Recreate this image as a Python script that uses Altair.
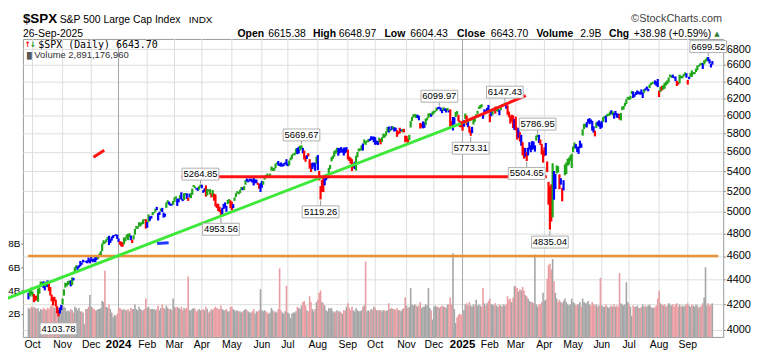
import altair as alt
import pandas as pd
import numpy as np

# ---------------- data: $SPX daily bars, 27-Sep-2023 .. 26-Sep-2025 (one line per month) ----------------
high = [
 4292, 4317, 4333,
 4300, 4281, 4268, 4268, 4324, 4336, 4385, 4378, 4385, 4377, 4383, 4393, 4367, 4339, 4276, 4256, 4259, 4236, 4183, 4156, 4174, 4194,
 4245, 4319, 4374, 4372, 4387, 4391, 4393, 4418, 4414, 4504, 4521, 4511, 4521, 4557, 4542, 4568, 4560, 4557, 4562, 4587, 4570,
 4596, 4574, 4579, 4599, 4591, 4609, 4623, 4643, 4709, 4739, 4726, 4748, 4768, 4779, 4748, 4772, 4784, 4785, 4793, 4789,
 4755, 4730, 4726, 4721, 4764, 4765, 4790, 4798, 4802, 4782, 4744, 4783, 4842, 4868, 4866, 4903, 4898, 4906, 4929, 4931, 4932,
 4907, 4976, 4957, 4963, 4999, 5000, 5030, 5048, 4990, 5002, 5032, 5038, 4993, 4983, 5089, 5111, 5098, 5080, 5077, 5105,
 5140, 5149, 5127, 5128, 5159, 5189, 5125, 5179, 5179, 5179, 5136, 5175, 5180, 5225, 5261, 5246, 5229, 5235, 5249, 5264.85,
 5263, 5208, 5228, 5256, 5222, 5216, 5220, 5178, 5211, 5175, 5168, 5077, 5078, 5049, 5019, 5039, 5076, 5090, 5057, 5114, 5123, 5110,
 5096, 5074, 5139, 5181, 5200, 5191, 5214, 5240, 5238, 5250, 5311, 5326, 5305, 5325, 5324, 5315, 5342, 5315, 5315, 5282, 5270, 5280,
 5302, 5298, 5355, 5362, 5376, 5362, 5376, 5447, 5436, 5432, 5477, 5488, 5505, 5478, 5490, 5472, 5483, 5490, 5524,
 5479, 5509, 5540, 5570, 5583, 5590, 5635, 5642, 5655, 5666, 5669.67, 5643, 5614, 5557, 5567, 5586, 5524, 5479, 5488, 5487, 5487, 5551,
 5567, 5401, 5250, 5312, 5330, 5328, 5350, 5364, 5435, 5464, 5545, 5561, 5608, 5621, 5643, 5643, 5641, 5651, 5630, 5646, 5646, 5651,
 5624, 5552, 5540, 5523, 5484, 5497, 5560, 5600, 5636, 5637, 5670, 5690, 5734, 5716, 5722, 5736, 5742, 5767, 5765, 5765,
 5758, 5721, 5718, 5753, 5739, 5757, 5797, 5790, 5822, 5871, 5875, 5846, 5879, 5878, 5866, 5863, 5835, 5817, 5862, 5843, 5847, 5850, 5775,
 5772, 5741, 5783, 5936, 5983, 6012, 6017, 6009, 6008, 5996, 5915, 5909, 5932, 5921, 5964, 5974, 6021, 6025, 6020, 6044,
 6053, 6052, 6089, 6092, 6099.97, 6088, 6066, 6093, 6079, 6078, 6085, 6058, 6070, 5935, 5982, 5978, 6040, 6049, 6006, 5941, 5929,
 5935, 5949, 6022, 6000, 5927, 5880, 5838, 5871, 5960, 5964, 6014, 6052, 6100, 6119, 6128, 6018, 6070, 6062, 6086, 6120,
 6022, 6042, 6062, 6084, 6101, 6073, 6076, 6064, 6116, 6127, 6130, 6147.43, 6119, 6114, 6044, 5992, 6009, 6000, 5959,
 5986, 5865, 5860, 5812, 5783, 5705, 5645, 5642, 5597, 5645, 5704, 5670, 5716, 5711, 5670, 5775, 5786.95, 5783, 5732, 5685, 5615,
 5650, 5696, 5500, 5292, 5246, 5267, 5481, 5402, 5371, 5459, 5450, 5367, 5329, 5232, 5309, 5469, 5489, 5528, 5540, 5563, 5581,
 5659, 5700, 5683, 5656, 5655, 5720, 5691, 5845, 5906, 5906, 5925, 5959, 5969, 5954, 5939, 5878, 5829, 5922, 5930, 5944, 5922,
 5938, 5981, 5991, 5999, 6016, 6021, 6044, 6059, 6046, 6026, 6051, 6024, 6018, 6018, 6028, 6101, 6108, 6146, 6187, 6215,
 6210, 6228, 6285, 6278, 6243, 6270, 6290, 6279, 6270, 6302, 6266, 6304, 6315, 6336, 6310, 6360, 6381, 6390, 6395, 6410, 6399, 6427,
 6288, 6330, 6344, 6353, 6380, 6395, 6410, 6446, 6481, 6473, 6481, 6455, 6458, 6405, 6394, 6480, 6466, 6466, 6487, 6508, 6498,
 6416, 6455, 6502, 6532, 6512, 6513, 6555, 6592, 6600, 6619, 6627, 6624, 6656, 6671, 6694, 6699.52, 6670, 6612, 6648.97,
]
low = [
 4238, 4261, 4276,
 4260, 4216, 4225, 4234, 4219, 4284, 4339, 4345, 4329, 4311, 4339, 4337, 4306, 4269, 4223, 4190, 4224, 4182, 4128, 4103.78, 4126, 4154,
 4197, 4268, 4334, 4344, 4355, 4362, 4344, 4354, 4393, 4462, 4495, 4479, 4500, 4511, 4525, 4544, 4554, 4545, 4537, 4546, 4537,
 4557, 4546, 4552, 4546, 4566, 4575, 4600, 4605, 4643, 4704, 4711, 4721, 4743, 4697, 4715, 4736, 4758, 4775, 4780, 4751,
 4723, 4700, 4683, 4682, 4703, 4730, 4757, 4740, 4769, 4739, 4714, 4746, 4789, 4844, 4842, 4864, 4865, 4881, 4887, 4917, 4845,
 4853, 4905, 4918, 4937, 4969, 4987, 5000, 5017, 4920, 4971, 5004, 4999, 4946, 4955, 5038, 5079, 5068, 5058, 5061, 5068,
 5094, 5126, 5057, 5091, 5125, 5117, 5102, 5114, 5161, 5124, 5105, 5138, 5131, 5164, 5240, 5229, 5216, 5203, 5214, 5243,
 5229, 5184, 5194, 5146, 5157, 5198, 5168, 5138, 5147, 5107, 5052, 5036, 5008, 4999, 4953.56, 4978, 5028, 5040, 5001, 5074, 5085, 5035,
 5012, 5035, 5106, 5143, 5180, 5169, 5180, 5212, 5209, 5211, 5263, 5296, 5287, 5298, 5297, 5285, 5256, 5279, 5278, 5262, 5223, 5192,
 5234, 5263, 5314, 5335, 5332, 5331, 5333, 5406, 5403, 5403, 5429, 5471, 5459, 5452, 5447, 5446, 5452, 5474, 5459,
 5451, 5458, 5511, 5525, 5563, 5565, 5581, 5576, 5584, 5615, 5632, 5585, 5522, 5497, 5527, 5552, 5425, 5391, 5420, 5444, 5404, 5476,
 5410, 5306, 5119.26, 5193, 5191, 5257, 5307, 5325, 5377, 5422, 5501, 5525, 5550, 5580, 5595, 5560, 5587, 5602, 5590, 5561, 5586, 5598,
 5521, 5504, 5477, 5402, 5434, 5420, 5406, 5545, 5605, 5615, 5614, 5615, 5690, 5675, 5702, 5703, 5716, 5725, 5730, 5703,
 5676, 5680, 5674, 5703, 5681, 5707, 5751, 5754, 5775, 5816, 5809, 5822, 5836, 5846, 5820, 5825, 5762, 5790, 5800, 5823, 5812, 5810, 5703,
 5712, 5697, 5725, 5864, 5937, 5976, 5985, 5969, 5972, 5945, 5853, 5865, 5855, 5860, 5891, 5944, 5972, 5991, 5984, 6003,
 6021, 6036, 6050, 6070, 6077, 6048, 6026, 6056, 6050, 6033, 6054, 6034, 5867, 5865, 5832, 5903, 5982, 6007, 5932, 5869, 5867,
 5829, 5874, 5960, 5890, 5867, 5809, 5773.31, 5803, 5898, 5929, 5976, 6018, 6075, 6077, 6093, 5962, 6014, 6018, 6044, 6030,
 5923, 5990, 6007, 6062, 6020, 6049, 6042, 6003, 6060, 6100, 6111, 6111, 6076, 6008, 5979, 5908, 5930, 5858, 5837,
 5833, 5732, 5750, 5711, 5666, 5564, 5529, 5546, 5504.65, 5563, 5625, 5597, 5622, 5633, 5603, 5721, 5759, 5695, 5675, 5572, 5488,
 5555, 5564, 5390, 5069, 4835.04, 4910, 4948, 5116, 5220, 5377, 5386, 5220, 5264, 5101, 5207, 5358, 5371, 5455, 5468, 5505, 5433,
 5597, 5635, 5637, 5598, 5579, 5640, 5644, 5775, 5847, 5868, 5865, 5920, 5900, 5917, 5830, 5808, 5767, 5858, 5886, 5875, 5849,
 5862, 5927, 5966, 5921, 5986, 5994, 6003, 6013, 6003, 5963, 6004, 5974, 5971, 5953, 5943, 6059, 6070, 6106, 6132, 6187,
 6177, 6188, 6246, 6201, 6215, 6236, 6245, 6244, 6242, 6241, 6201, 6262, 6288, 6304, 6280, 6317, 6353, 6365, 6376, 6361, 6345, 6330,
 6212, 6271, 6289, 6300, 6310, 6349, 6364, 6386, 6453, 6441, 6444, 6438, 6400, 6343, 6360, 6375, 6438, 6434, 6458, 6471, 6443,
 6360, 6425, 6451, 6454, 6485, 6487, 6513, 6534, 6578, 6593, 6600, 6551, 6606, 6632, 6658, 6646, 6617, 6569, 6604.43,
]
close = [
 4274.5, 4299.7, 4288.1,
 4288.4, 4229.5, 4263.8, 4258.2, 4308.5, 4335.7, 4358.2, 4376.9, 4349.6, 4327.8, 4373.6, 4373.2, 4314.6, 4278.0, 4224.2, 4217.0, 4247.7, 4186.8, 4137.2, 4117.4, 4166.8, 4193.8,
 4237.9, 4317.8, 4358.3, 4365.9, 4378.4, 4382.8, 4347.4, 4415.2, 4411.6, 4495.7, 4502.9, 4508.2, 4514.0, 4547.4, 4538.2, 4556.6, 4559.3, 4550.4, 4554.9, 4550.6, 4567.8,
 4594.6, 4569.8, 4567.2, 4549.3, 4585.6, 4604.4, 4622.4, 4643.7, 4707.1, 4719.6, 4719.2, 4740.6, 4768.4, 4698.4, 4746.8, 4754.6, 4774.8, 4781.6, 4783.4, 4769.8,
 4742.8, 4704.8, 4688.7, 4697.2, 4763.5, 4756.5, 4783.5, 4780.2, 4783.8, 4766.0, 4739.2, 4780.9, 4839.8, 4850.4, 4864.6, 4868.6, 4894.2, 4891.0, 4927.9, 4925.0, 4845.7,
 4906.2, 4958.6, 4942.8, 4954.2, 4995.1, 4997.9, 5026.6, 5021.8, 4953.2, 5000.6, 5029.7, 5005.6, 4975.5, 4981.8, 5087.0, 5088.8, 5069.5, 5078.2, 5069.8, 5096.3,
 5137.1, 5131.0, 5078.7, 5104.8, 5157.4, 5123.7, 5117.9, 5175.3, 5165.3, 5150.5, 5117.1, 5149.4, 5178.5, 5224.6, 5241.5, 5234.2, 5218.2, 5203.6, 5248.5, 5254.4,
 5243.8, 5205.8, 5211.5, 5147.2, 5204.3, 5202.4, 5209.9, 5160.6, 5199.1, 5123.4, 5061.8, 5051.4, 5022.2, 5011.1, 4967.2, 5010.6, 5070.6, 5071.6, 5048.4, 5100.0, 5116.2, 5035.7,
 5018.4, 5064.2, 5127.8, 5180.7, 5187.7, 5187.2, 5214.1, 5222.7, 5221.4, 5247.0, 5308.2, 5297.1, 5303.3, 5308.1, 5321.4, 5307.0, 5267.8, 5304.7, 5306.0, 5267.0, 5235.5, 5277.5,
 5283.4, 5291.3, 5354.0, 5353.0, 5347.0, 5360.8, 5375.3, 5421.0, 5433.7, 5431.6, 5473.2, 5487.0, 5473.2, 5464.6, 5447.9, 5469.3, 5477.9, 5482.9, 5460.5,
 5475.1, 5509.0, 5537.0, 5567.2, 5572.9, 5577.0, 5633.9, 5584.5, 5615.4, 5631.2, 5667.2, 5588.3, 5544.6, 5505.0, 5564.4, 5555.7, 5427.1, 5399.2, 5459.1, 5463.5, 5436.4, 5522.3,
 5446.7, 5346.6, 5186.3, 5240.0, 5199.5, 5319.3, 5344.2, 5344.4, 5434.4, 5455.2, 5543.2, 5554.3, 5608.3, 5597.1, 5620.9, 5570.6, 5634.6, 5616.8, 5625.8, 5592.2, 5592.0, 5648.4,
 5528.9, 5520.1, 5503.4, 5408.4, 5471.1, 5495.5, 5554.1, 5595.8, 5626.0, 5633.1, 5634.6, 5618.3, 5713.6, 5702.6, 5718.6, 5732.9, 5722.3, 5745.4, 5738.2, 5762.5,
 5708.8, 5709.5, 5699.9, 5751.1, 5695.9, 5751.1, 5792.0, 5780.1, 5815.0, 5859.9, 5815.3, 5842.5, 5841.5, 5864.7, 5854.0, 5851.2, 5797.4, 5809.9, 5808.1, 5823.5, 5832.9, 5813.7, 5705.5,
 5728.8, 5712.7, 5782.8, 5929.0, 5973.1, 5995.5, 6001.4, 5984.0, 5985.4, 5949.2, 5870.6, 5893.6, 5917.0, 5917.1, 5948.7, 5969.3, 5987.4, 6021.6, 5998.7, 6032.4,
 6047.2, 6049.9, 6086.5, 6075.1, 6090.3, 6052.9, 6034.9, 6084.2, 6051.1, 6051.1, 6074.1, 6050.6, 5872.2, 5867.1, 5930.9, 5974.1, 6040.0, 6037.6, 5970.8, 5906.9, 5881.6,
 5868.6, 5942.5, 5975.4, 5909.0, 5918.3, 5827.0, 5836.2, 5842.9, 5949.9, 5937.3, 5996.7, 6049.2, 6086.4, 6118.7, 6101.2, 6012.3, 6067.7, 6039.3, 6071.2, 6040.5,
 5994.6, 6037.9, 6061.5, 6083.6, 6026.0, 6066.4, 6068.5, 6052.0, 6115.1, 6114.6, 6129.6, 6144.2, 6117.5, 6013.1, 5983.3, 5955.3, 5956.1, 5861.6, 5954.5,
 5849.7, 5778.2, 5842.6, 5738.5, 5770.2, 5614.6, 5572.1, 5599.3, 5521.5, 5638.9, 5675.1, 5614.7, 5675.3, 5662.9, 5667.6, 5767.6, 5776.7, 5712.2, 5693.3, 5580.9, 5611.9,
 5633.1, 5671.0, 5396.5, 5074.1, 5062.3, 4982.8, 5456.9, 5268.1, 5363.4, 5406.0, 5396.6, 5275.7, 5282.7, 5158.2, 5287.8, 5375.9, 5484.8, 5525.2, 5528.8, 5560.8, 5569.1,
 5604.1, 5686.7, 5650.4, 5606.9, 5631.3, 5663.9, 5659.9, 5844.2, 5886.6, 5892.6, 5916.9, 5958.4, 5963.6, 5940.5, 5844.6, 5842.0, 5802.8, 5921.5, 5888.6, 5912.2, 5911.7,
 5935.9, 5970.4, 5970.8, 5939.3, 6000.4, 6005.9, 6038.8, 6022.2, 6045.3, 5977.0, 6033.1, 5982.7, 5980.9, 5967.8, 6025.2, 6092.2, 6092.2, 6141.0, 6173.1, 6205.0,
 6198.0, 6227.4, 6279.4, 6230.0, 6225.5, 6263.3, 6280.5, 6259.8, 6268.6, 6243.8, 6263.7, 6297.4, 6296.8, 6305.6, 6309.6, 6358.9, 6363.4, 6388.6, 6389.8, 6370.9, 6362.9, 6339.4,
 6238.0, 6329.9, 6299.2, 6345.1, 6340.0, 6389.5, 6373.5, 6445.8, 6466.6, 6468.5, 6449.8, 6449.2, 6411.4, 6395.8, 6370.2, 6466.9, 6439.3, 6465.9, 6481.4, 6501.9, 6460.3,
 6415.5, 6448.3, 6502.1, 6481.5, 6495.2, 6512.6, 6532.0, 6587.5, 6584.3, 6615.3, 6606.8, 6600.4, 6632.0, 6664.4, 6693.8, 6656.9, 6638.0, 6604.7, 6643.7,
]
volume_b = [
 2.5, 2.4, 2.6,
 2.5, 2.6, 2.5, 2.4, 2.5, 2.2, 2.4, 2.3, 2.5, 2.4, 2.3, 2.5, 2.4, 2.6, 2.8, 2.6, 2.5, 2.6, 2.7, 2.5, 2.4, 2.6,
 2.7, 2.6, 2.5, 2.2, 2.3, 2.2, 2.4, 2.3, 2.1, 2.6, 2.5, 2.3, 2.5, 2.2, 2.2, 2.1, 1.1, 2.4, 2.4, 2.6, 3.6,
 2.6, 2.5, 2.4, 2.3, 2.3, 2.4, 2.4, 2.5, 3.1, 3.0, 5.7, 2.6, 2.5, 2.8, 2.4, 2.1, 1.7, 1.9, 1.8, 2.0,
 2.4, 2.5, 2.4, 2.3, 2.4, 2.3, 2.3, 2.4, 2.2, 2.5, 2.4, 2.4, 2.8, 2.4, 2.3, 2.6, 2.4, 2.3, 2.3, 2.4, 3.3,
 2.5, 2.6, 2.4, 2.4, 2.4, 2.4, 2.3, 2.4, 2.7, 2.3, 2.5, 2.8, 2.5, 2.4, 2.7, 2.5, 2.4, 2.4, 2.3, 3.3,
 2.6, 2.5, 2.6, 2.5, 2.4, 2.6, 2.3, 2.5, 2.4, 2.5, 5.2, 2.3, 2.3, 2.4, 2.5, 2.4, 2.2, 2.3, 2.4, 2.3,
 2.3, 2.4, 2.3, 2.6, 2.4, 2.1, 2.2, 2.4, 2.3, 2.5, 2.6, 2.5, 2.4, 2.4, 2.7, 2.4, 2.3, 2.3, 2.4, 2.2, 2.2, 2.6,
 2.6, 2.4, 2.3, 2.2, 2.3, 2.2, 2.2, 2.1, 2.2, 2.3, 2.4, 2.3, 2.2, 2.1, 2.1, 2.2, 2.4, 2.0, 2.2, 2.2, 2.3, 4.1,
 2.3, 2.2, 2.3, 2.2, 2.1, 2.0, 2.1, 2.5, 2.3, 2.1, 2.2, 2.1, 2.4, 5.9, 2.3, 2.1, 2.0, 2.2, 4.4,
 2.1, 2.0, 1.6, 2.0, 2.1, 2.1, 2.2, 2.6, 2.5, 2.4, 2.7, 3.0, 3.1, 2.7, 2.3, 2.2, 3.5, 3.0, 2.4, 2.2, 2.4, 3.0,
 3.2, 3.8, 4.0, 3.0, 2.9, 2.7, 2.3, 2.2, 2.5, 2.4, 2.5, 2.2, 2.1, 2.2, 2.3, 2.2, 2.2, 2.1, 2.0, 2.3, 2.3, 2.6,
 2.9, 2.5, 2.3, 2.6, 2.3, 2.2, 2.5, 2.3, 2.2, 2.2, 2.3, 2.6, 2.7, 6.5, 2.2, 2.3, 2.2, 2.4, 2.3, 2.6,
 2.5, 2.3, 2.3, 2.3, 2.3, 2.2, 2.3, 2.3, 2.2, 2.3, 2.9, 2.4, 2.5, 2.4, 2.4, 2.3, 2.5, 2.3, 2.3, 2.2, 2.4, 2.5, 3.4,
 2.7, 2.5, 2.6, 4.2, 2.8, 2.7, 2.8, 2.7, 2.6, 2.7, 3.0, 2.5, 2.6, 2.6, 2.8, 2.7, 4.2, 2.5, 2.3, 1.5,
 2.6, 2.7, 2.6, 2.6, 2.5, 2.6, 2.7, 2.6, 2.6, 2.5, 2.8, 2.8, 3.4, 2.8, 7.2, 2.4, 1.2, 1.7, 1.9, 2.0, 1.9,
 2.0, 2.3, 2.8, 2.9, 2.7, 3.0, 2.7, 2.6, 2.8, 2.7, 3.2, 2.7, 2.8, 2.7, 2.6, 4.2, 2.9, 2.7, 2.9, 3.1,
 3.3, 2.8, 2.8, 2.7, 2.9, 2.7, 2.6, 2.8, 2.7, 2.6, 2.8, 2.7, 2.8, 3.5, 3.2, 3.3, 3.0, 3.4, 4.4,
 4.3, 4.2, 3.9, 4.1, 4.0, 4.3, 4.0, 3.6, 3.5, 3.3, 3.1, 3.0, 3.0, 2.9, 7.1, 2.8, 2.6, 2.8, 2.8, 3.0, 3.8,
 3.1, 3.2, 5.0, 6.2, 6.3, 5.8, 6.7, 4.8, 3.8, 3.3, 3.0, 3.2, 3.0, 2.9, 3.1, 3.3, 3.0, 2.8, 2.7, 2.8, 3.3,
 3.0, 2.9, 2.7, 2.8, 2.8, 3.0, 2.6, 3.3, 3.0, 2.9, 2.9, 3.1, 2.8, 2.7, 3.0, 2.8, 2.7, 2.8, 2.6, 2.7, 5.1,
 2.7, 2.6, 2.6, 2.8, 2.6, 2.5, 2.6, 2.7, 2.6, 2.8, 2.6, 2.7, 2.6, 5.5, 2.9, 2.8, 2.7, 2.8, 4.7, 3.0,
 2.8, 2.6, 1.8, 2.7, 2.6, 2.6, 2.7, 2.5, 2.5, 2.6, 2.8, 2.6, 2.7, 2.6, 2.7, 2.8, 2.6, 2.5, 2.5, 2.6, 2.7, 3.3,
 4.0, 2.9, 2.8, 2.7, 2.8, 2.6, 2.7, 2.9, 2.8, 2.7, 2.8, 2.6, 2.8, 2.9, 2.6, 2.8, 2.6, 2.7, 2.6, 2.7, 2.8,
 2.9, 2.7, 2.6, 2.8, 2.7, 2.6, 2.8, 2.7, 2.5, 2.6, 2.7, 2.9, 3.4, 6.0, 2.7, 2.9, 2.7, 2.8, 2.89,
]
assert len(high) == len(low) == len(close) == len(volume_b), (len(high), len(low), len(close), len(volume_b))

# month-start bar positions and their labels
month_idx = [3, 25, 46, 66, 87, 107, 127, 149, 171, 190, 212, 234, 254, 277, 297, 318, 338, 357, 378, 399, 420, 440, 462, 483]
month_labels = ["Oct", "Nov", "Dec", "2024", "Feb", "Mar", "Apr", "May", "Jun", "Jul", "Aug", "Sep",
                "Oct", "Nov", "Dec", "2025", "Feb", "Mar", "Apr", "May", "Jun", "Jul", "Aug", "Sep"]

# annotated highs / lows
label_values = [4103.78, 5264.85, 4953.56, 5669.67, 5119.26, 6099.97, 5773.31, 6147.43, 5504.65, 5786.95, 4835.04, 6699.52]
label_kinds = ["low", "high", "low", "high", "low", "high", "low", "high", "low", "high", "low", "high"]

# drawn trend lines (bar index, price)
line_x1 = [-16.9, 316.6, 112.2, 47.6, 94.3]
line_y1 = [4240, 5911, 5344, 5545, 4710]
line_x2 = [324.5, 364.3, 379.8, 55.5, 102.7]
line_y2 = [5955, 6229, 5344, 5618, 4716]
line_colors = ["#3ee83a", "#ff1414", "#ff1414", "#ff1414", "#1f3cff"]
support_level = 4600

price_ticks = list(range(4000, 6801, 200))
volume_ticks = [2, 4, 6, 8]

# ---------------- build tables ----------------
n = len(close)
c = pd.Series(close, dtype=float)
ema13 = c.ewm(span=13, adjust=False).mean()
macd = c.ewm(span=12, adjust=False).mean() - c.ewm(span=26, adjust=False).mean()
hist = macd - macd.ewm(span=9, adjust=False).mean()
e_up, h_up = ema13.diff() > 0, hist.diff() > 0
e_dn, h_dn = ema13.diff() < 0, hist.diff() < 0
GREEN, RED, BLUE = "#1fa81a", "#ff0000", "#0000ff"
impulse_col = np.where(e_up & h_up, GREEN, np.where(e_dn & h_dn, RED, BLUE))
vol_col = np.where(c.diff().fillna(0) >= 0, "#a6a6a6", "#ea9ea3")

bars = pd.DataFrame({"idx": np.arange(n), "high": high, "low": low, "close": close,
                     "vol": volume_b, "pcol": impulse_col, "vcol": vol_col})

lab_rows = []
for v, k in zip(label_values, label_kinds):
    arr = np.array(high if k == "high" else low, dtype=float)
    i = int(np.argmin(np.abs(arr - v)))
    lab_rows.append({"idx": i, "price": v, "text": f"{v:.2f}", "kind": k})
labels = pd.DataFrame(lab_rows)

lines = pd.DataFrame({"x1": line_x1, "y1": line_y1, "x2": line_x2, "y2": line_y2, "col": line_colors})
months = pd.DataFrame({"idx": month_idx, "label": month_labels,
                       "year": [m.isdigit() for m in month_labels]})

# ---------------- scales ----------------
W, H = 705, 300
XD = [-0.43, 505.31]
xs = alt.Scale(domain=XD, nice=False, zero=False)
ps = alt.Scale(type="log", domain=[3947.8, 6932.7], nice=False)
vs = alt.Scale(domain=[0, 25.64], nice=False, zero=True)
FONT = "Liberation Sans"

def X(f):
    return alt.X(f, type="quantitative", scale=xs, axis=None)

def PY(f):
    return alt.Y(f, type="quantitative", scale=ps, axis=None)

# vertical month grid
grid_m = alt.Chart(months[~months.year]).mark_rule(color="#dedede", strokeWidth=1).encode(
    x=X("idx"), y=alt.value(0), y2=alt.value(H))
grid_y = alt.Chart(months[months.year]).mark_rule(color="#a6a6a6", strokeWidth=1).encode(
    x=X("idx"), y=alt.value(0), y2=alt.value(H))

# volume
vol = alt.Chart(bars).mark_bar(width=1.6).encode(
    x=X("idx"),
    y=alt.Y("vol:Q", scale=vs, axis=alt.Axis(orient="left", values=volume_ticks, labelExpr="datum.value + 'B'",
            grid=False, domain=False, ticks=True, tickSize=2, tickColor="#777", labelPadding=1,
            labelFont=FONT, labelFontSize=10, labelColor="#000", title=None)),
    y2=alt.datum(0),
    color=alt.Color("vcol:N", scale=None))

# price bars (with the price axis and its grid)
price = alt.Chart(bars).mark_rule(strokeWidth=2.2).encode(
    x=X("idx"),
    y=alt.Y("low:Q", scale=ps, axis=alt.Axis(orient="right", values=price_ticks, format="d", grid=True,
            gridColor="#dedede", domain=False, tickSize=2, tickColor="#777", labelPadding=1,
            labelFont=FONT, labelFontSize=11, labelColor="#000", title=None)),
    y2="high:Q",
    color=alt.Color("pcol:N", scale=None))

support = alt.Chart(pd.DataFrame({"p": [support_level], "a": [XD[0]], "b": [XD[1]]})).mark_rule(
    color="#e8903a", strokeWidth=2.5).encode(x=X("a"), x2="b", y=PY("p"))

trend = alt.Chart(lines).mark_rule(strokeWidth=3).encode(
    x=X("x1"), x2="x2", y=PY("y1"), y2="y2", color=alt.Color("col:N", scale=None))

def label_layers(kind, off):
    d = labels[labels.kind == kind]
    tip = alt.Chart(d).mark_rule(color="#999", strokeWidth=1,
                                 yOffset=(-1 if off < 0 else 1), y2Offset=(off + 6 if off < 0 else off - 6)).encode(
        x=X("idx"), y=PY("price"), y2="price:Q")
    box = alt.Chart(d).mark_rect(width=37, height=12, fill="white", stroke="#b0b0b0", strokeWidth=1,
                                 yOffset=off).encode(x=X("idx"), y=PY("price"))
    txt = alt.Chart(d).mark_text(font=FONT, fontSize=9.5, color="#000", baseline="middle",
                                 yOffset=off).encode(x=X("idx"), y=PY("price"), text="text:N")
    return [tip, box, txt]

mlab = alt.Chart(months[~months.year]).mark_text(font=FONT, fontSize=10.5, color="#000", baseline="alphabetic").encode(
    x=X("idx"), y=alt.value(311), text="label:N")
ylab = alt.Chart(months[months.year]).mark_text(font=FONT, fontSize=11.5, fontWeight="bold", color="#000",
                                               baseline="alphabetic").encode(
    x=X("idx"), y=alt.value(311), text="label:N")

def txt(t, x, y, size=11, weight="normal", color="#000", align="left", font=FONT):
    return alt.Chart(pd.DataFrame({"t": [t]})).mark_text(
        font=font, fontSize=size, fontWeight=weight, color=color, align=align, baseline="alphabetic").encode(
        x=alt.value(x - 23), y=alt.value(y - 38), text="t:N")

header = [
    txt("$SPX", 23, 22, 13.5, "bold"),
    txt("S&P 500 Large Cap Index", 60, 22, 10.5),
    txt("INDX", 190, 22, 10),
    txt("©StockCharts.com", 727, 21, 11, color="#444", align="right"),
    txt("26-Sep-2025", 23, 36, 10.5),
    txt("Open", 239, 36, 10.5, "bold"), txt("6615.38", 270, 36, 10.5),
    txt("High", 315, 36, 10.5, "bold"), txt("6648.97", 341, 36, 10.5),
    txt("Low", 387, 36, 10.5, "bold"), txt("6604.43", 413, 36, 10.5),
    txt("Close", 460, 36, 10.5, "bold"), txt("6643.70", 494, 36, 10.5),
    txt("Volume", 540, 36, 10.5, "bold"), txt("2.9B", 584, 36, 10.5),
    txt("Chg", 613, 36, 10.5, "bold"), txt("+38.98 (+0.59%)", 638, 36, 10.5),
    txt("▲", 719, 35, 7, color="#2e7d32", font="DejaVu Sans"),
    txt("↑", 24.5, 46, 7.5, "bold", color="#ff0000", font="DejaVu Sans"),
    txt("↓", 30, 46, 7.5, "bold", color="#1a9a1a", font="DejaVu Sans"),
    txt("$SPX (Daily) 6643.70", 38.5, 47, 10, font="DejaVu Sans Mono"),
    txt("▐▌", 24.5, 57, 6.5, color="#555", font="DejaVu Sans"),
    txt("Volume 2,891,176,960", 34.5, 57.5, 9.5, color="#333"),
]

layers = [grid_m, grid_y, vol, price, support, trend] + label_layers("high", -10.5) + label_layers("low", 12.5) \
    + [mlab, ylab] + header

chart = alt.layer(*layers).resolve_scale(y="independent").properties(
    width=W, height=H,
    padding={"left": 15, "top": 30, "right": 29, "bottom": 12},
    autosize=alt.AutoSizeParams(type="none"),
    background="white",
).configure_view(stroke="#9a9a9a", strokeWidth=1)

chart.save("out.html", embed_options={"renderer": "svg", "actions": False})
